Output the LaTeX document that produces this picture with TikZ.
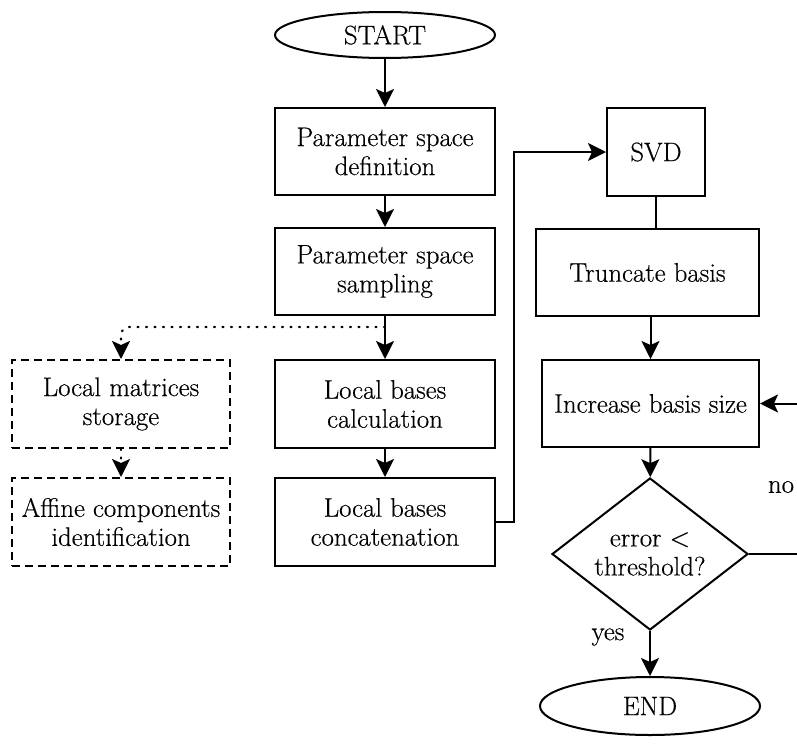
\documentclass[tikz,border=0pt]{standalone}
\usepackage{fontspec}
\setmainfont{Latin Modern Roman}[FakeBold=0.4]
\usetikzlibrary{shapes.geometric,arrows.meta}
\begin{document}
\begin{tikzpicture}[x=1pt,y=-1pt,
  every node/.style={font=\rmfamily\fontsize{26.8}{29}\selectfont, align=center, inner sep=0pt},
  box/.style={draw, line width=2pt, minimum width=220pt, minimum height=87pt},
  dbox/.style={draw, line width=2pt, dash pattern=on 8pt off 5pt, minimum width=218pt, minimum height=88pt},
  oval/.style={draw, ellipse, line width=2pt},
  tip/.style={-{Stealth[length=18pt,width=18pt,inset=4pt]}},
  arr/.style={line width=2pt, tip},
  ln/.style={line width=2pt},
  dots/.style={line width=2.2pt, dash pattern=on 1pt off 7.5pt, line cap=round},
]
\useasboundingbox (0,0) rectangle (797,744);
% main column
\node[oval, minimum width=220pt, minimum height=46pt] (start) at (385,35) {START};
\node[box] (psd) at (385,151.5) {Parameter space\\definition};
\node[box] (pss) at (385,271.5) {Parameter space\\sampling};
\node[box, minimum height=88pt] (lbc) at (385,404) {Local bases\\calculation};
\node[box, minimum height=88pt] (lbcat) at (385,522) {Local bases\\concatenation};
% dashed side boxes
\node[dbox] (lms) at (121,404) {Local matrices\\storage};
\node[dbox] (aci) at (121,522) {Affine components\\identification};
% right column
\node[box, minimum width=98pt, minimum height=88pt] (svd) at (656,152) {SVD};
\node[box, minimum width=223pt] (trunc) at (647.5,272.5) {Truncate basis};
\node[box, minimum width=217pt] (inc) at (650.5,403.5) {Increase basis size};
\node[draw, diamond, line width=2pt, minimum width=196pt, minimum height=152pt, aspect=1.29] (dec) at (650,554) {error \textless\\threshold?};
\node[oval, minimum width=220pt, minimum height=58pt] (end) at (650,706) {END};
% labels
\node (no) at (781,487) {no};
\node (yes) at (608,637) {yes};
% coordinates
\coordinate (j) at (385,327);
\coordinate (c1) at (514,152);
\coordinate (r1) at (830,554);
% connectors
\draw[arr] (start) -- (psd);
\draw[arr] (psd) -- (pss);
\draw[arr] (pss) -- (lbc);
\draw[arr] (lbc) -- (lbcat);
\draw[dots, rounded corners=8pt, tip] (j) -| (lms.north);
\draw[dots, tip] (lms) -- (aci);
\draw[arr] (lbcat.east) -| (c1) -- (svd.west);
\draw[ln] (svd.south) -- (svd.south |- trunc.north);
\draw[arr] (inc.north |- trunc.south) -- (inc.north);
\draw[arr] (inc) -- (dec);
\draw[arr] (dec.east) -- (r1) |- (inc.east);
\draw[arr] (dec.south) -- (end.north);
\end{tikzpicture}
\end{document}
